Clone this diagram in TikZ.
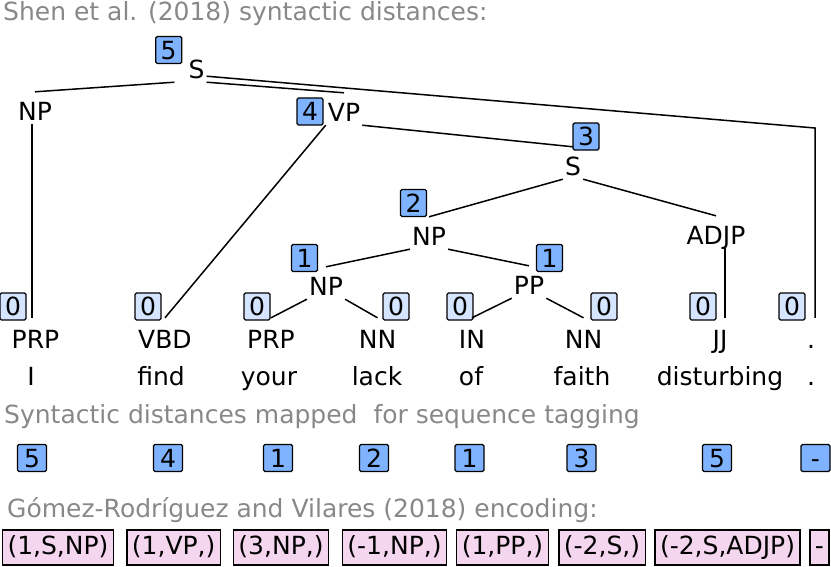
\documentclass[tikz,border=0pt]{standalone}
\usepackage{fontspec}
\setmainfont{DejaVu Sans}
\usepackage{xcolor}
\usepackage{tikz}
\usetikzlibrary{calc}

\definecolor{distblue}{HTML}{80B3FF}
\definecolor{leafblue}{HTML}{D5E5FF}
\definecolor{encpink}{HTML}{F4D7EE}
\definecolor{notegray}{HTML}{888888}

\tikzset{
  cat/.style={anchor=base, inner sep=2pt, text height=26pt, text depth=2pt},
  tag/.style={anchor=base, inner sep=0pt, text height=30pt, text depth=0pt},
  word/.style={anchor=base, inner sep=0pt},
  dist/.style={draw, line width=1.2pt, fill=distblue, rounded corners=1.5pt, inner sep=0pt,
    minimum width=26pt, minimum height=27pt, text height=18.2pt, text depth=0pt},
  leafdist/.style={dist, fill=leafblue},
  seqdist/.style={dist, minimum width=29pt},
  enc/.style={draw, line width=1.2pt, fill=encpink, inner xsep=5pt, inner ysep=6pt,
    text height=18.5pt, text depth=4.5pt},
  note/.style={anchor=base west, inner sep=0pt, text=notegray},
  branch/.style={line width=1.5pt}
}

\begin{document}
\begin{tikzpicture}[x=1pt,y=-1pt,font=\fontsize{25}{30}\selectfont]
	\useasboundingbox (0,0) rectangle (831,566);
	% headings
	\node[note] (headShen) at (3,20) {Shen et al. (2018) syntactic distances:};
	\node[note] (headSeq) at (4,423) {Syntactic distances mapped~\ for sequence tagging};
	\node[note] (headGomez) at (7,517) {Gómez-Rodríguez and Vilares (2018) encoding:};
	% constituents
	\node[cat] (sTop) at (196.5,78) {S};
	\node[cat] (npA) at (35,120) {NP};
	\node[cat] (vp) at (344,121) {VP};
	\node[cat] (sMid) at (573,175) {S};
	\node[cat] (npB) at (429,245) {NP};
	\node[cat] (adjp) at (716,244) {ADJP};
	\node[cat] (npC) at (326,295) {NP};
	\node[cat] (pp) at (529,294) {PP};
	% part of speech tags
	\node[tag] (tagI) at (35.5,348) {PRP};
	\node[tag] (tagFind) at (165,348) {VBD};
	\node[tag] (tagYour) at (271,348) {PRP};
	\node[tag] (tagLack) at (377.5,348) {NN};
	\node[tag] (tagOf) at (472,348) {IN};
	\node[tag] (tagFaith) at (583.5,348) {NN};
	\node[tag] (tagDist) at (720,348) {JJ};
	\node[tag] (tagDot) at (811,348) {.};
	% words
	\node[word] (wI) at (31,385) {I};
	\node[word] (wFind) at (161,385) {find};
	\node[word] (wYour) at (269,385) {your};
	\node[word] (wLack) at (377,385) {lack};
	\node[word] (wOf) at (471,385) {of};
	\node[word] (wFaith) at (582,385) {faith};
	\node[word] (wDist) at (720,385) {disturbing};
	\node[word] (wDot) at (811,385) {.};
	% distances on the tree
	\node[dist] (dsTop) at (168.7,50) {5};
	\node[dist] (dvp) at (310,111.5) {4};
	\node[dist] (dsMid) at (586,136.5) {3};
	\node[dist] (dnpB) at (413.5,203) {2};
	\node[dist] (dnpC) at (304.5,258) {1};
	\node[dist] (dpp) at (549.5,258) {1};
	\node[leafdist] (dI) at (13,306.5) {0};
	\node[leafdist] (dFind) at (148,306.5) {0};
	\node[leafdist] (dYour) at (257,306.5) {0};
	\node[leafdist] (dLack) at (396,306.5) {0};
	\node[leafdist] (dOf) at (460,306.5) {0};
	\node[leafdist] (dFaith) at (604,306.5) {0};
	\node[leafdist] (dDist) at (703,306.5) {0};
	\node[leafdist] (dDot) at (792,306.5) {0};
	% branches
	\coordinate (dotbend) at (815,128);
	\draw[branch] ([xshift=-12pt]sTop.south west) -- (npA.north);
	\draw[branch] (sTop.south east) -- (vp.north);
	\draw[branch] ([yshift=6pt]sTop.south east) -- (dotbend) -- (dotbend |- tagDot.north);
	\draw[branch] ([xshift=-3pt]npA.south) -- ([xshift=-3pt]npA.south |- tagI.north);
	\draw[branch] (vp.south west) -- (tagFind.north);
	\draw[branch] (vp.south east) -- (sMid.north);
	\draw[branch] (sMid.south west) -- (npB.north);
	\draw[branch] (sMid.south east) -- (adjp.north);
	\draw[branch] ([xshift=5pt]tagDist.north |- adjp.south) -- ([xshift=5pt]tagDist.north);
	\draw[branch] (npB.south west) -- (npC.north);
	\draw[branch] (npB.south east) -- (pp.north);
	\draw[branch] (npC.south west) -- (tagYour.north);
	\draw[branch] (npC.south east) -- (tagLack.north);
	\draw[branch] (pp.south west) -- (tagOf.north);
	\draw[branch] (pp.south east) -- (tagFaith.north);
	% distances for sequence tagging
	\node[seqdist] (sqI) at (32,458) {5};
	\node[seqdist] (sqFind) at (168,458) {4};
	\node[seqdist] (sqYour) at (278,458) {1};
	\node[seqdist] (sqLack) at (374,458) {2};
	\node[seqdist] (sqOf) at (469.5,458) {1};
	\node[seqdist] (sqFaith) at (581.5,458) {3};
	\node[seqdist] (sqDist) at (717,458) {5};
	\node[seqdist] (sqDot) at (815.5,458) {-};
	% encoding labels
	\node[enc] (encI) at (58,547.5) {(1,S,NP)};
	\node[enc] (encFind) at (173.7,547.5) {(1,VP,)};
	\node[enc] (encYour) at (281,547.5) {(3,NP,)};
	\node[enc] (encLack) at (394.5,547.5) {(-1,NP,)};
	\node[enc] (encOf) at (502.5,547.5) {(1,PP,)};
	\node[enc] (encFaith) at (602,547.5) {(-2,S,)};
	\node[enc] (encDist) at (727.5,547.5) {(-2,S,ADJP)};
	\node[enc] (encDot) at (819.5,547.5) {-};
\end{tikzpicture}
\end{document}
